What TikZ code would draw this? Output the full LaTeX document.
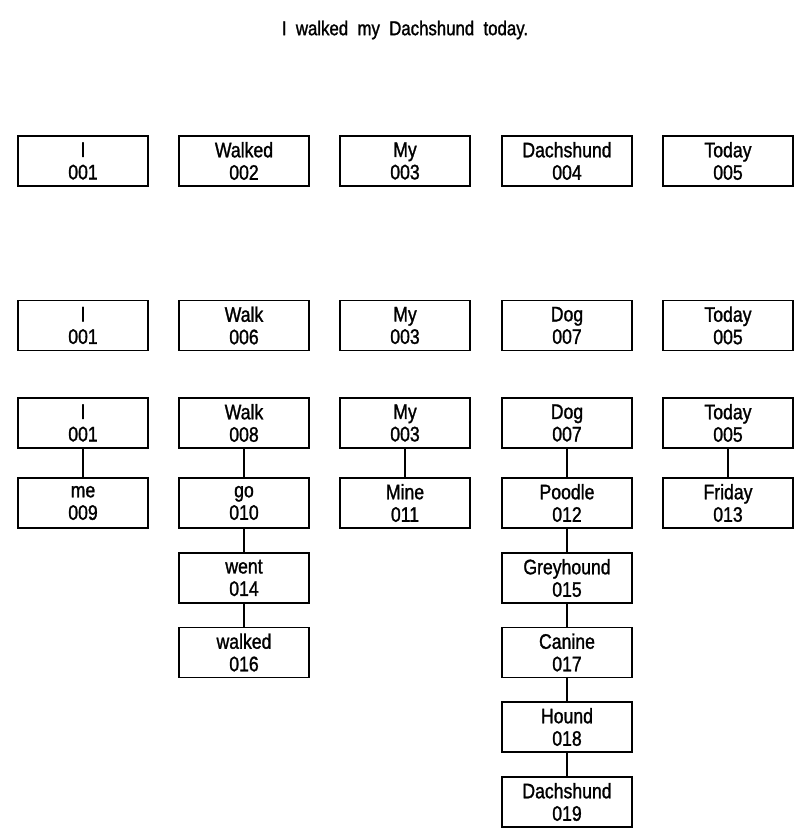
\documentclass[tikz,border=0pt]{standalone}
\usepackage{fontspec}
\setmainfont[FakeStretch=0.84,FakeBold=1.3]{Liberation Sans}
\begin{document}
\begin{tikzpicture}[x=1pt,y=-1pt,
  wbox/.style={draw, line width=1.7pt, minimum width=130pt, minimum height=50pt,
    inner sep=0pt, align=center, font=\fontsize{21}{22.5}\selectfont},
  link/.style={line width=1.7pt}]
\useasboundingbox (0,0) rectangle (810,832);
\node[font=\fontsize{20}{22}\selectfont] (title) at (405,30) {I\ \ walked\ \ my\ \ Dachshund\ \ today.};
% row 1
\node[wbox] (a1) at (83,161) {I\\001};
\node[wbox] (a2) at (244,161) {Walked\\002};
\node[wbox] (a3) at (405,161) {My\\003};
\node[wbox] (a4) at (567,161) {Dachshund\\004};
\node[wbox] (a5) at (728,161) {Today\\005};
% row 2
\node[wbox] (b1) at (83,325.5) {I\\001};
\node[wbox] (b2) at (244,325.5) {Walk\\006};
\node[wbox] (b3) at (405,325.5) {My\\003};
\node[wbox] (b4) at (567,325.5) {Dog\\007};
\node[wbox] (b5) at (728,325.5) {Today\\005};
% row 3
\node[wbox] (c1) at (83,423) {I\\001};
\node[wbox] (c2) at (244,423) {Walk\\008};
\node[wbox] (c3) at (405,423) {My\\003};
\node[wbox] (c4) at (567,423) {Dog\\007};
\node[wbox] (c5) at (728,423) {Today\\005};
% row 4
\node[wbox] (d1) at (83,503) {me\\009};
\node[wbox] (d2) at (244,503) {go\\010};
\node[wbox] (d3) at (405,503) {Mine\\011};
\node[wbox] (d4) at (567,503) {Poodle\\012};
\node[wbox] (d5) at (728,503) {Friday\\013};
% further rows
\node[wbox] (e2) at (244,578) {went\\014};
\node[wbox] (e4) at (567,578) {Greyhound\\015};
\node[wbox] (f2) at (244,652.5) {walked\\016};
\node[wbox] (f4) at (567,652.5) {Canine\\017};
\node[wbox] (g4) at (567,727) {Hound\\018};
\node[wbox] (h4) at (567,802) {Dachshund\\019};
% connectors
\draw[link] (c1) -- (d1);
\draw[link] (c2) -- (d2) -- (e2) -- (f2);
\draw[link] (c3) -- (d3);
\draw[link] (c4) -- (d4) -- (e4) -- (f4) -- (g4) -- (h4);
\draw[link] (c5) -- (d5);
\end{tikzpicture}
\end{document}
